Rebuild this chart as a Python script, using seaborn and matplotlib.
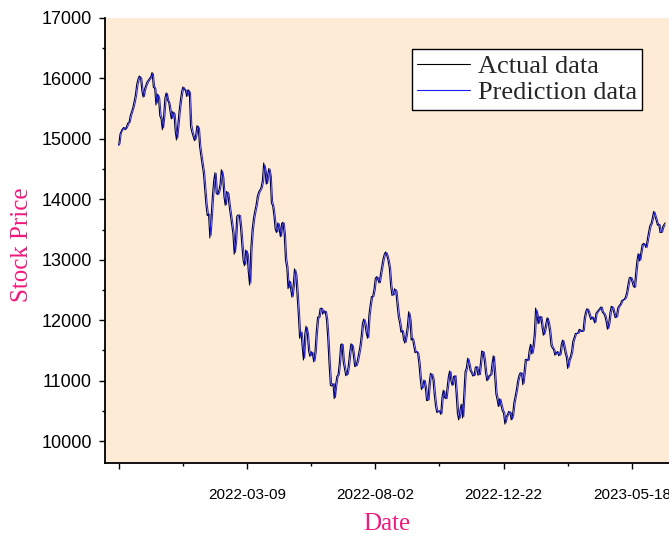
import numpy as np
import pandas as pd
import matplotlib
matplotlib.use("Agg")
import matplotlib.pyplot as plt
import seaborn as sns
from matplotlib.ticker import MultipleLocator

sns.set_theme(style="ticks")
plt.rcParams["font.family"] = ["Liberation Sans", "DejaVu Sans"]

# Daily closing prices (trading-day order)
actual = [
    14900, 15080, 15130, 15170, 15190, 15150, 15200, 15260, 15270, 15390,
    15450, 15520, 15620, 15730, 15900, 15990, 16040, 16010, 15800, 15690,
    15820, 15880, 15940, 15970, 16000, 16030, 16100, 15850, 15840, 15560,
    15740, 15680, 15380, 15330, 15150, 15380, 15680, 15760, 15640, 15600,
    15450, 15330, 15450, 15420, 15130, 14980, 15220, 15450, 15630, 15780,
    15860, 15820, 15800, 15700, 15815, 15770, 15200, 15110, 15040, 14970,
    15060, 15220, 15180, 14880, 14720, 14580, 14430, 14155, 13900, 13730,
    13760, 13360, 13700, 14050, 14300, 14440, 14100, 14080, 14140, 14250,
    14490, 14370, 14050, 13900, 14130, 14100, 13900, 13740, 13590, 13430,
    13090, 13300, 13720, 13740, 13740, 13520, 13230, 12980, 12900, 13160,
    13100, 12800, 12580, 13200, 13500, 13680, 13800, 13900, 14045, 14120,
    14155, 14200, 14310, 14600, 14480, 14250, 14390, 14510, 14390, 13940,
    13890, 13720, 13500, 13450, 13610, 13520, 13380, 13600, 13620, 13420,
    12990, 12870, 12520, 12650, 12520, 12380, 12580, 12850, 12750, 12430,
    12090, 11700, 11810, 11560, 11340, 11760, 11900, 11770, 11490, 11400,
    11480, 11440, 11310, 11480, 11810, 12050, 12050, 12190, 12200, 12100,
    12155, 12140, 12000, 11680, 11260, 10920, 10910, 10950, 10700, 10920,
    11065, 11100, 11300, 11590, 11610, 11310, 11190, 11080, 11110, 11250,
    11460, 11610, 11570, 11400, 11230, 11250, 11330, 11450, 11560, 11730,
    11950, 12020, 11920, 11780, 11700, 12080, 12250, 12390, 12395, 12510,
    12690, 12720, 12670, 12615, 12760, 12890, 13010, 13090, 13130, 13070,
    12980, 12850, 12560, 12410, 12420, 12520, 12480, 12250, 12050, 11950,
    11800, 11830, 11680, 11620, 11750, 11900, 12140, 12000, 11670, 11700,
    11570, 11460, 11480, 11455, 11280, 11030, 10850, 10910, 11010, 10880,
    10670, 10670, 10960, 11120, 11100, 11010, 10760, 10570, 10470, 10490,
    10500, 10440, 10720, 10840, 10720, 10700, 10880, 11070, 11160, 10990,
    10920, 11065, 11080, 10790, 10460, 10350, 10500, 10610, 10380, 10770,
    11150, 11210, 11370, 11270, 11160, 11130, 11075, 11090, 11220, 11230,
    11090, 11100, 11300, 11490, 11475, 11330, 11120, 10995, 11050, 11090,
    11090, 11280, 11410, 11100, 10780, 10680, 10570, 10700, 10590, 10500,
    10460, 10280, 10400, 10435, 10490, 10470, 10350, 10430, 10630, 10735,
    10850, 10995, 11085, 11130, 11120, 10930, 11140, 11350, 11350, 11330,
    11500, 11600, 11440, 11560, 11780, 12200, 12090, 11940, 12050, 12060,
    11880, 11750, 11830, 11950, 12040, 11940, 11800, 11580, 11540, 11510,
    11420, 11460, 11480, 11410, 11440, 11600, 11670, 11570, 11460, 11380,
    11200, 11340, 11390, 11480, 11650, 11710, 11780, 11780, 11790, 11850,
    11820, 11810, 11830, 12040, 12140, 12190, 12150, 12070, 12010, 12055,
    12020, 11955, 12110, 12140, 12165, 12195, 12220, 12130, 12110, 12065,
    11970, 11850, 11950, 12130, 12230, 12200, 12120, 12040, 12060, 12200,
    12240, 12260, 12320, 12335, 12345, 12380, 12460, 12590, 12700, 12710,
    12650, 12570, 12540, 12780, 12990, 13100, 12980, 13115, 13245, 13270,
    13250, 13200, 13330, 13450, 13560, 13600, 13690, 13800, 13720, 13650,
    13570, 13590, 13450, 13450, 13540, 13580, 13610,
]

# Model output for the same trading days
predicted = [
    14890, 14920, 15090, 15140, 15170, 15185, 15160, 15200, 15250, 15280,
    15380, 15450, 15520, 15610, 15720, 15890, 15980, 16030, 16000, 15810,
    15700, 15810, 15880, 15930, 15965, 15995, 16030, 16080, 15870, 15830,
    15590, 15730, 15670, 15400, 15330, 15180, 15370, 15660, 15750, 15640,
    15590, 15460, 15340, 15440, 15410, 15150, 15010, 15210, 15440, 15620,
    15770, 15850, 15815, 15795, 15710, 15800, 15760, 15230, 15120, 15040,
    14980, 15060, 15210, 15170, 14890, 14730, 14590, 14440, 14180, 13920,
    13750, 13750, 13400, 13690, 14030, 14290, 14430, 14110, 14080, 14140,
    14250, 14470, 14360, 14060, 13910, 14120, 14090, 13910, 13750, 13600,
    13440, 13120, 13310, 13700, 13730, 13730, 13530, 13250, 13000, 12920,
    13150, 13090, 12820, 12610, 13180, 13480, 13670, 13790, 13890, 14030,
    14110, 14150, 14195, 14300, 14570, 14470, 14260, 14380, 14500, 14380,
    13960, 13890, 13730, 13510, 13460, 13600, 13520, 13390, 13590, 13610,
    13430, 13020, 12880, 12540, 12640, 12520, 12390, 12570, 12830, 12740,
    12450, 12110, 11730, 11800, 11570, 11370, 11740, 11880, 11770, 11500,
    11410, 11470, 11440, 11320, 11470, 11790, 12030, 12050, 12180, 12195,
    12110, 12150, 12140, 12010, 11700, 11290, 10950, 10920, 10950, 10720,
    10910, 11060, 11100, 11290, 11570, 11600, 11330, 11200, 11090, 11110,
    11240, 11440, 11600, 11570, 11410, 11240, 11250, 11320, 11440, 11550,
    11720, 11930, 12010, 11930, 11790, 11710, 12060, 12240, 12380, 12395,
    12500, 12680, 12715, 12670, 12620, 12750, 12880, 13000, 13080, 13120,
    13070, 12985, 12860, 12580, 12420, 12420, 12510, 12480, 12270, 12070,
    11960, 11810, 11825, 11690, 11630, 11740, 11890, 12120, 12000, 11690,
    11690, 11580, 11470, 11480, 11450, 11300, 11050, 10870, 10910, 11000,
    10890, 10690, 10680, 10940, 11110, 11100, 11020, 10780, 10590, 10480,
    10490, 10500, 10450, 10700, 10830, 10730, 10700, 10870, 11060, 11150,
    11000, 10930, 11060, 11080, 10810, 10490, 10370, 10490, 10600, 10400,
    10750, 11130, 11200, 11360, 11270, 11165, 11130, 11080, 11090, 11210,
    11230, 11100, 11100, 11290, 11480, 11470, 11340, 11130, 11010, 11050,
    11090, 11095, 11270, 11400, 11120, 10800, 10690, 10580, 10690, 10600,
    10510, 10470, 10300, 10395, 10435, 10485, 10470, 10360, 10430, 10620,
    10730, 10845, 10990, 11080, 11125, 11120, 10950, 11130, 11340, 11350,
    11335, 11490, 11590, 11450, 11555, 11760, 12170, 12090, 11950, 12045,
    12055, 11890, 11760, 11825, 11940, 12030, 11945, 11810, 11600, 11545,
    11510, 11430, 11460, 11475, 11415, 11440, 11590, 11665, 11575, 11470,
    11390, 11220, 11330, 11390, 11470, 11640, 11705, 11775, 11780, 11790,
    11845, 11820, 11810, 11830, 12030, 12135, 12185, 12150, 12075, 12015,
    12050, 12020, 11960, 12105, 12140, 12165, 12190, 12215, 12135, 12110,
    12070, 11975, 11860, 11945, 12120, 12225, 12200, 12125, 12045, 12060,
    12190, 12235, 12260, 12315, 12335, 12345, 12375, 12455, 12580, 12690,
    12705, 12655, 12575, 12545, 12765, 12975, 13090, 12990, 13110, 13240,
    13265, 13245, 13205, 13320, 13440, 13550, 13595, 13685, 13790, 13725,
    13655, 13575, 13585, 13460, 13455, 13535, 13575,
]

tick_days = [0, 100, 200, 300, 400]
tick_dates = ["", "2022-03-09", "2022-08-02", "2022-12-22", "2023-05-18"]

df = pd.DataFrame({
    "day": np.arange(len(actual)),
    "Actual data": actual,
    "Prediction data": predicted,
})

pink = "#F0197D"
serif = ["Liberation Serif", "DejaVu Serif"]

fig = plt.figure(figsize=(6.69, 5.38), dpi=100)
ax = fig.add_axes([105 / 669, 75.3 / 538, 564 / 669, 444.7 / 538])
ax.set_facecolor("#FDEBD6")

sns.lineplot(data=df, x="day", y="Actual data", color="black", lw=0.75,
             label="Actual data", ax=ax)
sns.lineplot(data=df, x="day", y="Prediction data", color="#1a1aff", lw=0.7,
             label="Prediction data", ax=ax)

ax.set_xlim(-10.7, 429)
ax.set_ylim(9641, 17000)

ax.set_xticks(tick_days)
ax.set_xticklabels(tick_dates)
ax.xaxis.set_minor_locator(MultipleLocator(50))
ax.yaxis.set_major_locator(MultipleLocator(1000))
ax.yaxis.set_minor_locator(MultipleLocator(500))

for side in ("top", "right"):
    ax.spines[side].set_visible(False)
for side in ("left", "bottom"):
    ax.spines[side].set_color("black")
    ax.spines[side].set_linewidth(1.3)

ax.tick_params(axis="both", which="major", direction="out", length=4.5,
               width=1.0, color="black", labelcolor="black")
ax.tick_params(axis="both", which="minor", direction="out", length=2.5,
               width=1.0, color="black")
ax.tick_params(axis="y", which="major", labelsize=13, pad=5)
ax.tick_params(axis="x", which="major", labelsize=11, pad=14)

ax.set_xlabel("Date", family=serif, fontsize=18, color=pink)
ax.set_ylabel("Stock Price", family=serif, fontsize=18, color=pink)
ax.xaxis.set_label_coords(0.5, -0.114)
ax.yaxis.set_label_coords(-0.128, 0.49)

leg = ax.legend(loc="upper right", bbox_to_anchor=(642 / 669, 1 - 49 / 538),
                bbox_transform=fig.transFigure, borderaxespad=0,
                prop={"family": serif, "size": 19}, frameon=True,
                fancybox=False, framealpha=1, facecolor="white",
                edgecolor="black", handlelength=2.0, handletextpad=0.3,
                borderpad=0.2, labelspacing=0.12)
leg.get_frame().set_linewidth(1.0)
for line in leg.get_lines():
    line.set_linewidth(0.8)

fig.savefig("out.png", dpi=100)
